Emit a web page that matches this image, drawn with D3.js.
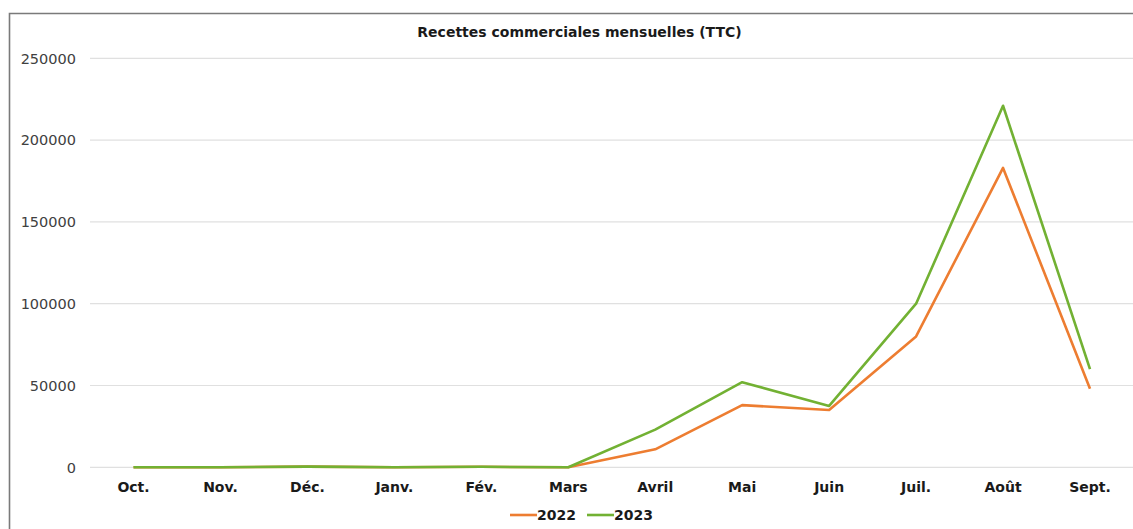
<!DOCTYPE html>
<html><head><meta charset="utf-8">
<script src="https://cdn.jsdelivr.net/npm/d3@7"></script>
<style>html,body{margin:0;padding:0;background:#fff;overflow:hidden}</style>
</head><body><svg id="c" width="1133" height="529"></svg>
<script>
const months = ["Oct.","Nov.","Déc.","Janv.","Fév.","Mars","Avril","Mai","Juin","Juil.","Août","Sept."];
const values2022 = [0,0,400,0,300,0,11000,38000,35000,80000,183000,48000];
const values2023 = [0,0,400,0,300,0,23000,52000,37500,100000,221000,60000];
const yTicks = [0,50000,100000,150000,200000,250000];
const seriesNames = ["2022","2023"];
const colors = ["#ED7D31","#72B133"];

const svg = d3.select("#c");
const font = "'DejaVu Sans', sans-serif";
svg.append("rect").attr("width",1133).attr("height",529).attr("fill","#fff");
// frame (left + top visible)
svg.append("path").attr("d","M9.5,529 V13.5 H1133").attr("fill","none").attr("stroke","#7a7a7a").attr("stroke-width",1.6);

const x = d3.scalePoint().domain(months).range([133.5,1090]);
const y = d3.scaleLinear().domain([0,250000]).range([467.3,58.3]);

// gridlines
svg.append("g").selectAll("line").data(yTicks).join("line")
  .attr("x1",90).attr("x2",1133).attr("y1",d=>y(d)).attr("y2",d=>y(d))
  .attr("stroke","#e0e0e0").attr("stroke-width",1.2);

// y labels
svg.append("g").selectAll("text").data(yTicks).join("text")
  .attr("x",76).attr("y",d=>y(d)).attr("dy","0.36em").attr("text-anchor","end")
  .attr("font-family",font).attr("font-size",14.5).attr("fill","#404040").text(d=>d);

// x labels
svg.append("g").selectAll("text").data(months).join("text")
  .attr("x",d=>x(d)).attr("y",487).attr("dy","0.36em").attr("text-anchor","middle")
  .attr("font-family",font).attr("font-weight","bold").attr("font-size",14).attr("fill","#1a1a1a").text(d=>d);

// title
svg.append("text").attr("x",579.5).attr("y",32).attr("dy","0.36em").attr("text-anchor","middle")
  .attr("font-family",font).attr("font-weight","bold").attr("font-size",14).attr("fill","#1a1a1a")
  .text("Recettes commerciales mensuelles (TTC)");

const line = d3.line().x((d,i)=>x(months[i])).y(d=>y(d));
[values2022, values2023].forEach((vals,k)=>{
  svg.append("path").datum(vals).attr("d",line).attr("fill","none")
    .attr("stroke",colors[k]).attr("stroke-width",2.6).attr("stroke-linejoin","round");
});

// legend
const lg = svg.append("g");
const legX = [510, 587];
seriesNames.forEach((n,k)=>{
  lg.append("line").attr("x1",legX[k]).attr("x2",legX[k]+27).attr("y1",515).attr("y2",515)
    .attr("stroke",colors[k]).attr("stroke-width",2.6);
  lg.append("text").attr("x",legX[k]+27).attr("y",515).attr("dy","0.36em")
    .attr("font-family",font).attr("font-weight","bold").attr("font-size",14).attr("fill","#1a1a1a").text(n);
});
</script></body></html>
